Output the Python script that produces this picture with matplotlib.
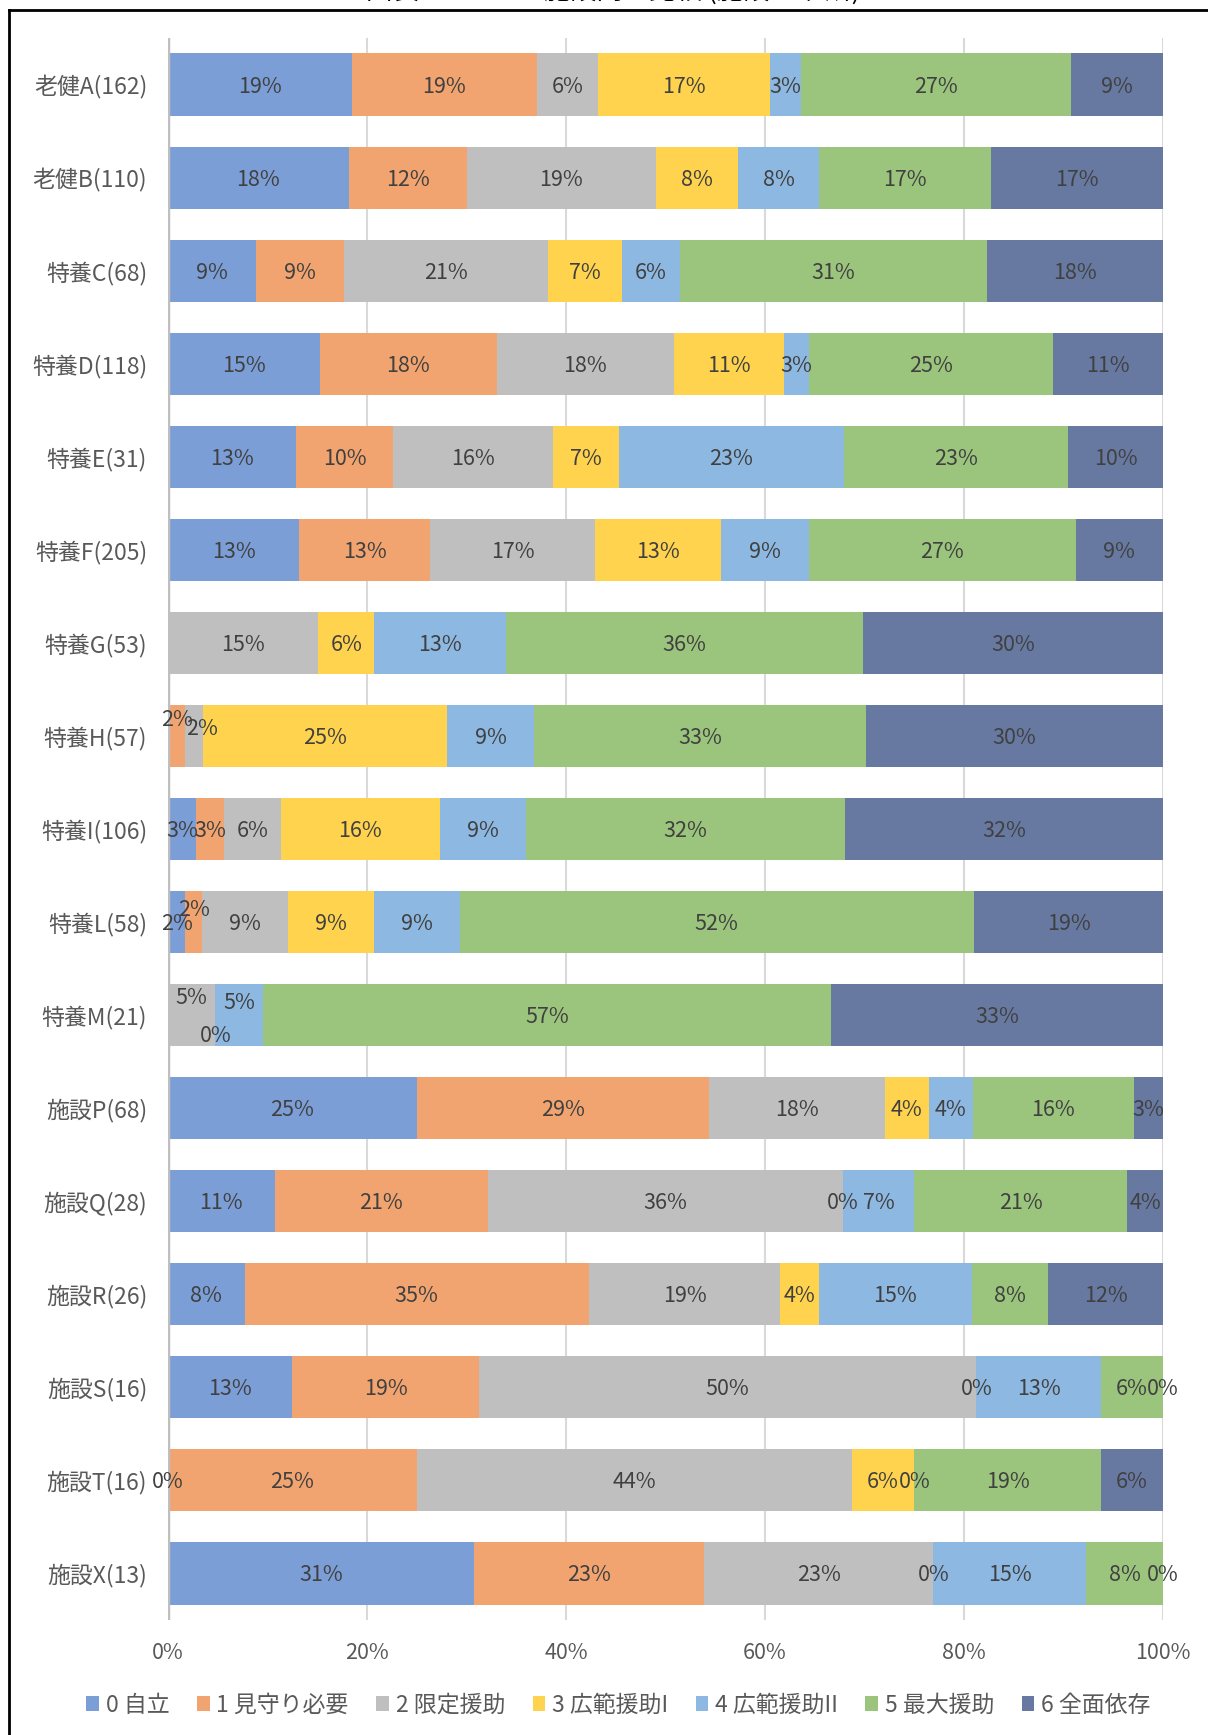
import numpy as np
import matplotlib
matplotlib.use("Agg")
import matplotlib.pyplot as plt
from matplotlib.lines import Line2D

plt.rcParams['font.family'] = ['Noto Sans CJK JP', 'DejaVu Sans']

## data (percent per facility, nan = blank cell / no label)
facilities = ['老健A(162)', '老健B(110)', '特養C(68)', '特養D(118)', '特養E(31)',
              '特養F(205)', '特養G(53)', '特養H(57)', '特養I(106)', '特養L(58)',
              '特養M(21)', '施設P(68)', '施設Q(28)', '施設R(26)', '施設S(16)',
              '施設T(16)', '施設X(13)']
categories = ['0 自立', '1 見守り必要', '2 限定援助', '3 広範援助I', '4 広範援助II',
              '5 最大援助', '6 全面依存']
nan = np.nan
c0_jiritsu = [18.52, 18.18, 8.82, 15.25, 12.9, 13.17, nan, nan, 2.83, 1.72, nan, 25.0, 10.71, 7.69, 12.5, 0, 30.77]
c1_mimamori = [18.52, 11.82, 8.82, 17.8, 9.68, 13.17, nan, 1.75, 2.83, 1.72, nan, 29.41, 21.43, 34.62, 18.75, 25.0, 23.08]
c2_gentei = [6.17, 19.09, 20.59, 17.8, 16.13, 16.59, 15.09, 1.75, 5.66, 8.62, 4.76, 17.65, 35.71, 19.23, 50.0, 43.75, 23.08]
c3_kohan1 = [17.28, 8.18, 7.35, 11.02, 6.6, 12.68, 5.66, 24.56, 16.04, 8.62, 0, 4.41, 0, 3.85, 0, 6.25, 0]
c4_kohan2 = [3.09, 8.18, 5.88, 2.54, 22.58, 8.78, 13.21, 8.77, 8.6, 8.62, 4.76, 4.41, 7.14, 15.38, 12.5, 0, 15.38]
c5_saidai = [27.16, 17.27, 30.88, 24.58, 22.58, 26.83, 35.85, 33.33, 32.08, 51.72, 57.14, 16.18, 21.43, 7.69, 6.25, 18.75, 7.69]
c6_zenmen = [9.26, 17.27, 17.65, 11.02, 9.68, 8.78, 30.19, 29.82, 32.08, 18.97, 33.33, 2.94, 3.57, 11.54, 0, 6.25, 0]
series = [c0_jiritsu, c1_mimamori, c2_gentei, c3_kohan1, c4_kohan2, c5_saidai, c6_zenmen]

colors = ['#7C9ED6', '#F1A46F', '#BFBFBF', '#FFD34E', '#8DB8E1', '#9BC47D', '#6779A1']

# hand-placed labels where excel nudged them (px offsets)
nudge = {(7, 1): (0, -18), (7, 2): (8, -9), (9, 1): (0, -14),
         (10, 2): (0, -19), (10, 3): (0, 19), (10, 4): (0, -14)}

fig = plt.figure(figsize=(12.08, 17.35), dpi=100)
ax = fig.add_axes([168/1208, 1-1620/1735, (1163-168)/1208, (1620-38)/1735])

y = np.arange(len(facilities))
left = np.zeros(len(facilities))
for k, vals in enumerate(series):
    v = np.nan_to_num(np.array(vals, dtype=float))
    ax.barh(y, v, left=left, height=0.667, color=colors[k], label=categories[k], zorder=2)
    for i, val in enumerate(vals):
        if np.isnan(val):
            continue
        dx, dy = nudge.get((i, k), (0, 0))
        dy += 2
        ax.annotate('%d%%' % int(val + 0.5), (left[i] + v[i] / 2, y[i]),
                    xytext=(dx * 0.72, -dy * 0.72), textcoords='offset points',
                    ha='center', va='center', fontsize=15.5, color='#404040',
                    zorder=4, annotation_clip=False)
    left += v

ax.set_xlim(0, 100)
ax.set_ylim(len(facilities) - 0.5, -0.5)
ax.set_yticks(y)
ax.set_yticklabels(facilities, fontsize=16.5, color='#595959')
ax.set_xticks([0, 20, 40, 60, 80, 100])
ax.set_xticklabels(['0%', '20%', '40%', '60%', '80%', '100%'], fontsize=15.5, color='#595959')
ax.tick_params(axis='y', length=0, pad=15)
ax.tick_params(axis='x', length=0, pad=16)
ax.grid(axis='x', color='#D9D9D9', lw=1.5, zorder=0)
ax.axvline(0, color='#BFBFBF', lw=2.5, zorder=3)
for s in ax.spines.values():
    s.set_visible(False)

fig.legend(loc='center', bbox_to_anchor=(0.512, 1 - 1705/1735), ncol=7, frameon=False,
           fontsize=16.5, labelcolor='#595959', handlelength=0.55, handleheight=0.6,
           handletextpad=0.3, columnspacing=1.2)

# chart border (cut off at right/bottom) and clipped title
fig.add_artist(Line2D([9/1208, 1.0], [1-10/1735, 1-10/1735], color='black', lw=2))
fig.add_artist(Line2D([9/1208, 9/1208], [0.0, 1-10/1735], color='black', lw=2))
fig.text(0.508, 1 - 5/1735, '図表 4-1 ADLの施設間の比較 (施設17ヶ所)', ha='center', va='bottom',
         fontsize=19, color='black')

fig.savefig('out.png', dpi=100)
